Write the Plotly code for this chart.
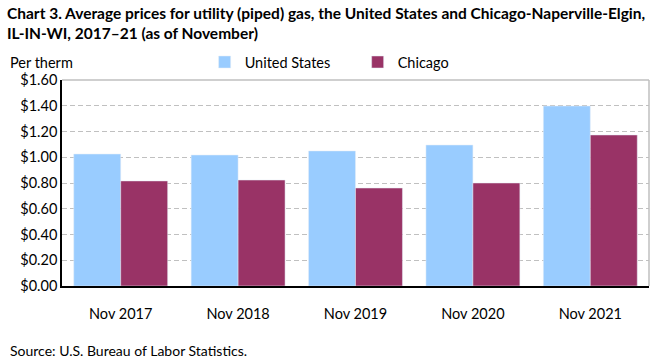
import plotly.graph_objects as go

categories = ["Nov 2017", "Nov 2018", "Nov 2019", "Nov 2020", "Nov 2021"]
us_values = [1.025, 1.017, 1.049, 1.095, 1.398]
chicago_values = [0.816, 0.823, 0.761, 0.800, 1.173]
tick_vals = [0, 0.2, 0.4, 0.6, 0.8, 1.0, 1.2, 1.4, 1.6]
tick_text = ["$0.00", "$0.20", "$0.40", "$0.60", "$0.80", "$1.00", "$1.20", "$1.40", "$1.60"]

FONT = "Lato, Open Sans, sans-serif"

fig = go.Figure()
fig.add_bar(x=categories, y=us_values, name="United States", marker_color="#99ccff")
fig.add_bar(x=categories, y=chicago_values, name="Chicago", marker_color="#993366")

fig.update_layout(
    width=661, height=361,
    margin=dict(l=62, r=12, t=80, b=75),
    paper_bgcolor="white", plot_bgcolor="white",
    barmode="group", bargap=0.2, bargroupgap=0,
    font=dict(family=FONT, size=14, color="#000000"),
    showlegend=True,
    legend=dict(orientation="h", x=0.243, xanchor="left", y=1.087, yanchor="middle",
                font=dict(size=14.5), itemwidth=30, traceorder="normal",
                bgcolor="rgba(0,0,0,0)", entrywidth=108),
)
fig.update_yaxes(
    range=[0, 1.6], tickvals=tick_vals, ticktext=tick_text,
    showgrid=True, gridcolor="#c0c0c0", griddash="5px,3px", gridwidth=1,
    showline=True, linecolor="#000000", linewidth=1.5,
    ticks="", ticklen=0, zeroline=False, tickfont=dict(size=14.5),
    mirror=False,
)
fig.update_xaxes(
    showline=True, linecolor="#000000", linewidth=2,
    ticks="", tickfont=dict(size=14.5), showgrid=False,
    ticklabelstandoff=14,
)
# top and right border of the plot area
fig.add_shape(type="line", xref="paper", yref="paper", x0=0, x1=1, y0=1, y1=1,
              line=dict(color="#bfbfbf", width=1.5))
fig.add_shape(type="line", xref="paper", yref="paper", x0=1, x1=1, y0=0, y1=1,
              line=dict(color="#bfbfbf", width=1.5))
fig.add_annotation(
    text="<b>Chart 3. Average prices for utility (piped) gas, the United States and Chicago-Naperville-Elgin,<br>IL-IN-WI, 2017–21 (as of November)</b>",
    xref="paper", yref="paper", x=-0.097, y=1.379, xanchor="left", yanchor="top",
    align="left", showarrow=False, font=dict(size=15.5, color="#000000"))
fig.add_annotation(text="Per therm", xref="paper", yref="paper", x=-0.092, y=1.087,
                   xanchor="left", yanchor="middle", showarrow=False, font=dict(size=14.5))
fig.add_annotation(text="Source: U.S. Bureau of Labor Statistics.", xref="paper", yref="paper",
                   x=-0.092, y=-0.311, xanchor="left", yanchor="middle", showarrow=False,
                   font=dict(size=14))

fig.write_html("out.html", config={"displayModeBar": False},
               post_script="document.body.style.margin='0';document.body.style.overflow='hidden';")
